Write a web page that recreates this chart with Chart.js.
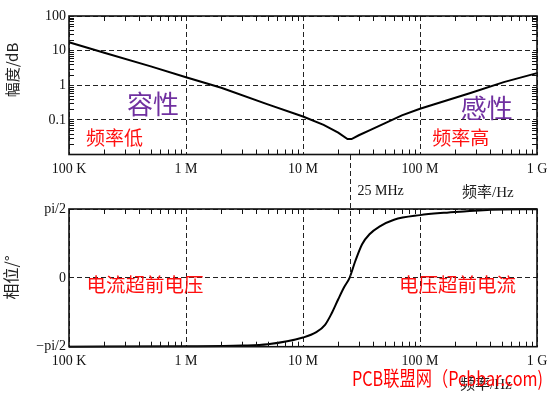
<!DOCTYPE html>
<html>
<head>
<meta charset="utf-8">
<script src="https://cdn.jsdelivr.net/npm/chart.js@4.4.1/dist/chart.umd.min.js"></script>
<style>
  html, body { margin: 0; padding: 0; background: #fff; }
  #wrap { position: relative; width: 554px; height: 393px; overflow: hidden; }
  canvas { position: absolute; left: 0; }
  #mag { top: 0; }
  #phase { top: 150px; }
</style>
</head>
<body>
<div id="wrap">
  <canvas id="mag" width="554" height="180"></canvas>
  <canvas id="phase" width="554" height="243"></canvas>
</div>
<script>
// --- data ---
const freqTicks = [1e5, 1e6, 1e7, 1e8, 1e9];
const freqTickLabels = ['100 K', '1 M', '10 M', '100 M', '1 G'];
const magTicks = [0.01, 0.1, 1, 10, 100];
const magTickLabels = ['', '0.1', '1', '10', '100'];
const phaseTicks = [-90, 0, 90];
const phaseTickLabels = ['\u2212pi/2', '0', 'pi/2'];

const magFreq  = [1e5, 2e5, 5e5, 1e6, 2e6, 5e6, 1e7, 1.5e7, 2e7, 2.4e7, 2.6e7, 3e7, 3.7e7, 5.2e7, 7e7, 1e8, 2.7e8, 5.2e8, 1e9];
const magValue = [17.4, 8.7, 3.5, 1.7, 0.85, 0.28, 0.125, 0.072, 0.043, 0.028, 0.028, 0.036, 0.05, 0.085, 0.135, 0.21, 0.6, 1.23, 2.24];

const phaseFreq  = [1e5, 1e6, 3e6, 5e6, 1e7, 1.3e7, 1.55e7, 1.75e7, 2e7, 2.25e7, 2.5e7, 2.8e7, 3.2e7, 3.7e7, 4.5e7, 6e7, 1e8, 1.6e8, 2.5e8, 4e8, 1e9];
const phaseValue = [-90, -89.5, -88.5, -86.8, -78, -71, -61, -47, -28, -12, 0, 22, 44, 57, 67, 76, 82, 85, 87, 89, 89.7];

const resonanceFreq = 25e6;

const purple = '#7030a0';
const red = '#ff1010';
const magNotes = [
  { text: '容性', f: 3.13e5, v: 0.28, color: purple, size: 26 },
  { text: '频率低', f: 1.4e5, v: 0.030, color: red, size: 19 },
  { text: '感性', f: 2.23e8, v: 0.216, color: purple, size: 26 },
  { text: '频率高', f: 1.27e8, v: 0.030, color: red, size: 19 }
];
const phaseNotes = [
  { text: '电流超前电压', f: 1.41e5, v: -9, color: red, size: 19.5 },
  { text: '电压超前电流', f: 6.6e7, v: -9, color: red, size: 19.5 }
];

const serif = "'Liberation Serif', 'DejaVu Serif', serif";
const cjk = "'Noto Sans CJK SC', 'Noto Sans', sans-serif";
const tickFont = { family: serif, size: 14 };
const ink = '#111';

// --- helpers ---
function freqAxis(height) {
  return {
    type: 'logarithmic',
    min: 1e5,
    max: 1e9,
    afterBuildTicks: s => { s.ticks = freqTicks.map(v => ({ value: v })); },
    afterFit: s => { s.height = height; },
    ticks: {
      callback: (v, i) => freqTickLabels[i],
      font: tickFont, color: ink, padding: 6, maxRotation: 0, autoSkip: false
    },
    grid: { color: '#222', lineWidth: 1, drawTicks: false },
    border: { display: false, dash: [5, 3] }
  };
}

function text(ctx, str, x, y, font, color, align) {
  ctx.save();
  ctx.font = font;
  ctx.fillStyle = color;
  ctx.textAlign = align || 'left';
  ctx.textBaseline = 'middle';
  ctx.fillText(str, x, y);
  ctx.restore();
}

function vtext(ctx, str, x, y, font) {
  ctx.save();
  ctx.translate(x, y);
  ctx.rotate(-Math.PI / 2);
  text(ctx, str, 0, 0, font, '#222', 'center');
  ctx.restore();
}

function frameAndTicks(chart, yMinor) {
  const { ctx, chartArea: a, scales } = chart;
  ctx.save();
  ctx.strokeStyle = ink;
  ctx.lineWidth = 1;
  ctx.beginPath();
  for (let i = 0; i < freqTicks.length - 1; i++) {
    for (let m = 2; m <= 9; m++) {
      const x = Math.round(scales.x.getPixelForValue(freqTicks[i] * m)) + 0.5;
      ctx.moveTo(x, a.top); ctx.lineTo(x, a.top + 5);
      ctx.moveTo(x, a.bottom); ctx.lineTo(x, a.bottom - 5);
    }
  }
  if (yMinor) {
    for (let i = 0; i < magTicks.length - 1; i++) {
      for (let m = 2; m <= 9; m++) {
        const y = Math.round(scales.y.getPixelForValue(magTicks[i] * m)) + 0.5;
        ctx.moveTo(a.left, y); ctx.lineTo(a.left + 5, y);
        ctx.moveTo(a.right, y); ctx.lineTo(a.right - 5, y);
      }
    }
  }
  ctx.stroke();
  ctx.lineWidth = 1.6;
  ctx.strokeRect(a.left, a.top, a.right - a.left, a.bottom - a.top);
  ctx.restore();
}

function drawNotes(chart, notes) {
  const { ctx, scales } = chart;
  notes.forEach(n => {
    text(ctx, n.text, scales.x.getPixelForValue(n.f), scales.y.getPixelForValue(n.v),
      n.size + 'px ' + cjk, n.color);
  });
}

// --- magnitude chart ---
new Chart(document.getElementById('mag'), {
  type: 'line',
  data: {
    datasets: [{
      data: magFreq.map((f, i) => ({ x: f, y: magValue[i] })),
      borderColor: '#000', borderWidth: 2, pointRadius: 0, tension: 0, clip: 4
    }]
  },
  options: {
    responsive: false,
    animation: false,
    layout: { padding: { top: 16, right: 17, left: 0, bottom: 0 } },
    plugins: { legend: { display: false }, tooltip: { enabled: false } },
    scales: {
      x: freqAxis(25.5),
      y: {
        type: 'logarithmic',
        min: 0.01,
        max: 100,
        afterBuildTicks: s => { s.ticks = magTicks.map(v => ({ value: v })); },
        afterFit: s => { s.width = 69; },
        ticks: { callback: (v, i) => magTickLabels[i], font: tickFont, color: ink, padding: 3, autoSkip: false },
        grid: { color: '#222', lineWidth: 1, drawTicks: false },
        border: { display: false, dash: [5, 3] }
      }
    }
  },
  plugins: [{
    id: 'magDecor',
    afterDraw(chart) {
      frameAndTicks(chart, true);
      drawNotes(chart, magNotes);
      vtext(chart.ctx, '幅度/dB', 12.5, 70, '15px ' + cjk);
    }
  }]
});

// --- phase chart ---
new Chart(document.getElementById('phase'), {
  type: 'line',
  data: {
    datasets: [{
      data: phaseFreq.map((f, i) => ({ x: f, y: phaseValue[i] })),
      borderColor: '#000', borderWidth: 2, pointRadius: 0,
      cubicInterpolationMode: 'monotone', clip: 4
    }]
  },
  options: {
    responsive: false,
    animation: false,
    layout: { padding: { top: 59, right: 17, left: 0, bottom: 0 } },
    plugins: { legend: { display: false }, tooltip: { enabled: false } },
    scales: {
      x: freqAxis(46.3),
      y: {
        type: 'linear',
        min: -90,
        max: 90,
        afterBuildTicks: s => { s.ticks = phaseTicks.map(v => ({ value: v })); },
        afterFit: s => { s.width = 69; },
        ticks: { callback: (v, i) => phaseTickLabels[i], font: tickFont, color: ink, padding: 3, autoSkip: false },
        grid: { color: '#222', lineWidth: 1, drawTicks: false },
        border: { display: false, dash: [5, 3] }
      }
    }
  },
  plugins: [{
    id: 'phaseDecor',
    afterDraw(chart) {
      const { ctx, scales } = chart;
      frameAndTicks(chart, false);
      // resonance marker running down from the magnitude plot
      const xr = Math.round(scales.x.getPixelForValue(resonanceFreq)) + 0.5;
      ctx.save();
      ctx.strokeStyle = '#222';
      ctx.lineWidth = 1;
      ctx.setLineDash([5, 3]);
      ctx.beginPath();
      ctx.moveTo(xr, 5);
      ctx.lineTo(xr, scales.y.getPixelForValue(0));
      ctx.stroke();
      ctx.restore();
      text(ctx, '25 MHz', xr + 7, 41.7, '14px ' + serif, ink);
      text(ctx, '频率/Hz', 462, 43, '15px ' + serif + ', ' + cjk, '#222');
      text(ctx, '频率/Hz', 460, 235, '15px ' + serif + ', ' + cjk, '#222');
      drawNotes(chart, phaseNotes);
      vtext(ctx, '相位/°', 11, 127.5, '16px ' + cjk);
      ctx.save();
      ctx.font = '20px ' + cjk;
      ctx.fillStyle = '#ff0000';
      ctx.textBaseline = 'middle';
      ctx.fillText('PCB联盟网（Pcbbar.com)', 352, 228, 191);
      ctx.restore();
    }
  }]
});
</script>
</body>
</html>
